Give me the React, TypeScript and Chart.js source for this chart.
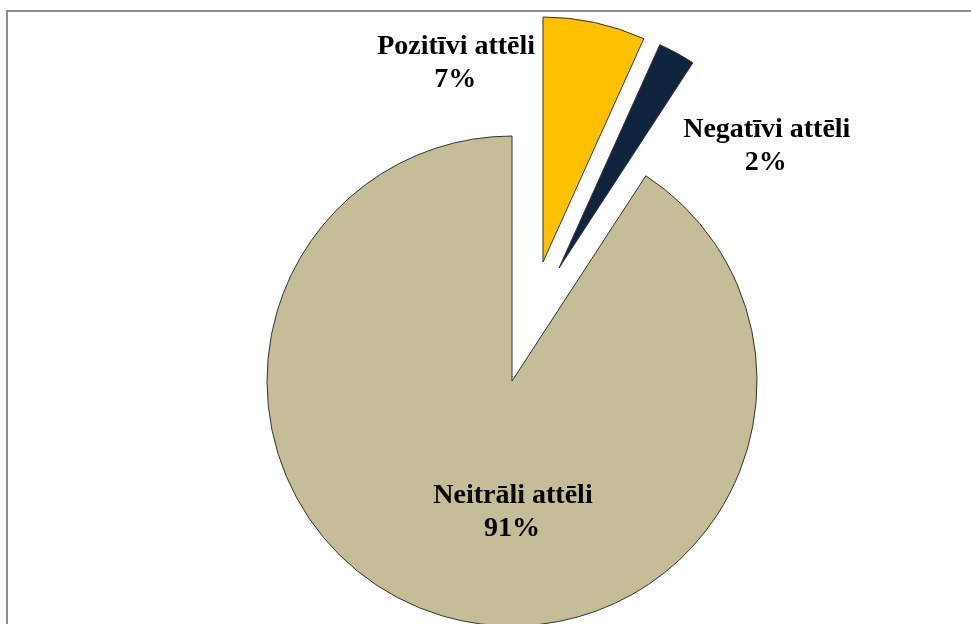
import React, { useEffect, useRef } from "react";
import { Chart, registerables } from "chart.js";

Chart.register(...registerables);

const categories: string[] = ["Pozitīvi attēli", "Negatīvi attēli", "Neitrāli attēli"];
const shares: number[] = [6.75, 2.45, 90.8];
const sliceColors: string[] = ["#FFC000", "#10243E", "#C4BD97"];
// explosion displacement of each slice (px), like Excel's "exploded" pie points
const explodeVec: [number, number][] = [
  [31, -119],
  [47, -113],
  [0, 0],
];

const FONT = 'bold 28px "Liberation Serif", "Times New Roman", serif';

const framePlugin = {
  id: "frame",
  beforeDraw(chart: any) {
    const ctx = chart.ctx;
    ctx.save();
    ctx.fillStyle = "#ffffff";
    ctx.fillRect(0, 0, chart.width, chart.height);
    ctx.strokeStyle = "#8c8c8c";
    ctx.lineWidth = 2;
    ctx.beginPath();
    ctx.moveTo(7, chart.height);
    ctx.lineTo(7, 11);
    ctx.lineTo(chart.width, 11);
    ctx.stroke();
    ctx.restore();
  },
};

const explodePlugin = {
  id: "explode",
  beforeDatasetDraw(chart: any, args: any) {
    const ctx = chart.ctx;
    args.meta.data.forEach((arc: any, i: number) => {
      const [dx, dy] = explodeVec[i] || [0, 0];
      ctx.save();
      ctx.translate(dx, dy);
      arc.draw(ctx, chart.chartArea);
      ctx.restore();
    });
    return false;
  },
};

// label anchors, relative to pie centre, in units of the radius
const labelAnchors: [number, number][] = [
  [-0.228, -1.335],
  [1.04, -0.996],
  [0.004, 0.498],
];

const labelPlugin = {
  id: "sliceLabels",
  afterDatasetsDraw(chart: any) {
    const meta = chart.getDatasetMeta(0);
    const data = chart.data.datasets[0].data as number[];
    const total = data.reduce((a, b) => a + b, 0);
    const ctx = chart.ctx;
    ctx.save();
    ctx.font = FONT;
    ctx.fillStyle = "#000000";
    ctx.textAlign = "center";
    ctx.textBaseline = "alphabetic";
    meta.data.forEach((arc: any, i: number) => {
      const props = arc.getProps(["x", "y", "outerRadius"], true);
      const r = props.outerRadius;
      const [fx, fy] = labelAnchors[i];
      const x = props.x + fx * r;
      const y = props.y + fy * r;
      ctx.fillText(String(chart.data.labels[i]), x, y);
      ctx.fillText(Math.round((data[i] / total) * 100) + "%", x - 1, y + 33);
    });
    ctx.restore();
  },
};

export default function App() {
  const canvasRef = useRef<HTMLCanvasElement | null>(null);

  useEffect(() => {
    const canvas = canvasRef.current;
    if (!canvas) return;
    const chart = new Chart(canvas, {
      type: "pie",
      data: {
        labels: categories,
        datasets: [
          {
            data: shares,
            backgroundColor: sliceColors,
            borderColor: "#333333",
            borderWidth: 1,
            borderJoinStyle: "miter",
            offset: 0,
            hoverOffset: 0,
          } as any,
        ],
      },
      options: {
        animation: false,
        responsive: false,
        maintainAspectRatio: false,
        radius: 245,
        layout: { padding: { left: 53, top: 138, right: 0, bottom: 0 } },
        plugins: {
          legend: { display: false },
          tooltip: { enabled: false },
          title: { display: false },
        },
        events: [],
      } as any,
      plugins: [framePlugin, explodePlugin, labelPlugin],
    });
    return () => chart.destroy();
  }, []);

  return (
    <div style={{ position: "fixed", left: 0, top: 0, width: 971, height: 624, background: "#fff" }}>
      <canvas ref={canvasRef} width={971} height={624} style={{ display: "block", width: 971, height: 624 }} />
    </div>
  );
}
